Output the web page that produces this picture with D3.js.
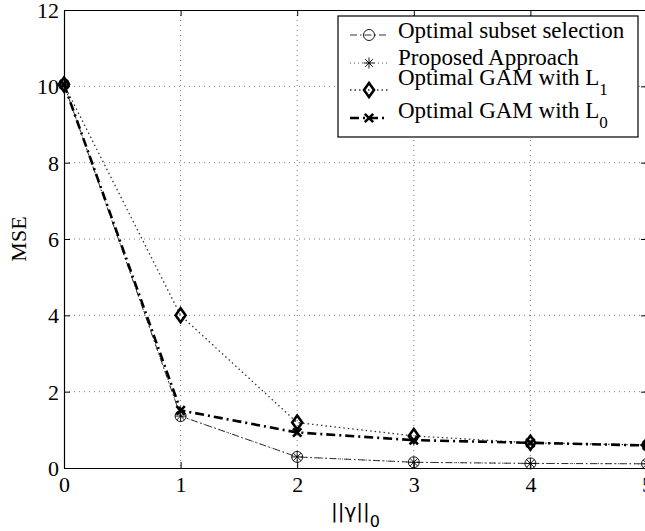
<!DOCTYPE html>
<html>
<head>
<meta charset="utf-8">
<script src="https://cdn.jsdelivr.net/npm/d3@7"></script>
<style>
  body { margin: 0; background: #fff; }
  svg { display: block; }
  text { font-family: "Liberation Serif", "Times New Roman", serif; fill: #000; }
</style>
</head>
<body>
<svg id="chart" width="645" height="531"></svg>
<script>
// data
const xValues = [0, 1, 2, 3, 4, 5];
const subsetMSE = [10.05, 1.36, 0.29, 0.15, 0.12, 0.11];
const proposedMSE = [10.05, 1.36, 0.29, 0.15, 0.12, 0.11];
const gamL1MSE = [10.05, 4.0, 1.19, 0.84, 0.66, 0.6];
const gamL0MSE = [10.05, 1.51, 0.93, 0.73, 0.66, 0.59];
const xTicks = [0, 1, 2, 3, 4, 5];
const yTicks = [0, 2, 4, 6, 8, 10, 12];

const series = [
    {name: "Optimal subset selection", sub: "", values: subsetMSE, marker: "circle",
        width: 0.8, dash: "7,3,1.5,3", color: "#000"},
    {name: "Proposed Approach", sub: "", values: proposedMSE, marker: "star",
        width: 0.8, dash: "1,3", color: "#222"},
    {name: "Optimal GAM with L", sub: "1", values: gamL1MSE, marker: "diamond",
        width: 1.3, dash: "1.5,3", color: "#333"},
    {name: "Optimal GAM with L", sub: "0", values: gamL0MSE, marker: "cross",
        width: 2.6, dash: "9,4,2,4", color: "#000"}
];

const svg = d3.select("#chart");
const plotLeft = 64, plotRight = 647, plotTop = 10, plotBottom = 468;

const x = d3.scaleLinear().domain([0, 5]).range([plotLeft, plotRight]);
const y = d3.scaleLinear().domain([0, 12]).range([plotBottom, plotTop]);

// dotted grid
const grid = svg.append("g");
grid.selectAll(".gx").data(xTicks.slice(1, -1)).join("line")
    .attr("x1", d => x(d)).attr("x2", d => x(d))
    .attr("y1", plotTop).attr("y2", plotBottom)
    .style("stroke", "#555").style("stroke-width", 0.8).style("stroke-dasharray", "1,4");
grid.selectAll(".gy").data(yTicks.slice(1, -1)).join("line")
    .attr("x1", plotLeft).attr("x2", plotRight)
    .attr("y1", d => y(d)).attr("y2", d => y(d))
    .style("stroke", "#555").style("stroke-width", 0.8).style("stroke-dasharray", "1,4");

// axes, ticks pointing in like matlab
let styleAxis = function(g) {
    g.select(".domain").style("stroke", "#000").style("stroke-width", 1.2);
    g.selectAll(".tick line").style("stroke", "#000").style("stroke-width", 1);
    g.selectAll(".tick text").style("font-size", "22px")
        .style("font-family", "Liberation Serif, serif");
};

svg.append("g").attr("transform", `translate(0,${plotBottom})`)
    .call(d3.axisBottom(x).tickValues(xTicks).tickSizeInner(-6).tickSizeOuter(0).tickPadding(6).tickFormat(d3.format("d")))
    .call(styleAxis)
    .call(g => g.selectAll(".tick text").attr("dy", "0.8em"));
svg.append("g").attr("transform", `translate(${plotLeft},0)`)
    .call(d3.axisLeft(y).tickValues(yTicks).tickSizeInner(-6).tickSizeOuter(0).tickPadding(5).tickFormat(d3.format("d")))
    .call(styleAxis)
    .call(g => g.selectAll(".tick text").attr("dy", "0.34em"));
svg.append("g").attr("transform", `translate(0,${plotTop})`)
    .call(d3.axisTop(x).tickValues(xTicks).tickSizeInner(-6).tickSizeOuter(0).tickFormat(""))
    .call(styleAxis);
svg.append("g").attr("transform", `translate(${plotRight},0)`)
    .call(d3.axisRight(y).tickValues(yTicks).tickSizeInner(-6).tickSizeOuter(0).tickFormat(""))
    .call(styleAxis);

// markers
let drawMarker = function(g, type, cx, cy) {
    if (type === "circle") {
        g.append("circle").attr("cx", cx).attr("cy", cy).attr("r", 5.5)
            .style("fill", "none").style("stroke", "#000").style("stroke-width", 0.9);
    } else if (type === "star") {
        const r = 5.5;
        for (let a = 0; a < 4; a++) {
            const ang = a * Math.PI / 4;
            g.append("line")
                .attr("x1", cx - r * Math.cos(ang)).attr("y1", cy - r * Math.sin(ang))
                .attr("x2", cx + r * Math.cos(ang)).attr("y2", cy + r * Math.sin(ang))
                .style("stroke", "#000").style("stroke-width", 0.9);
        }
    } else if (type === "diamond") {
        g.append("path")
            .attr("d", `M${cx},${cy - 7} L${cx + 5},${cy} L${cx},${cy + 7} L${cx - 5},${cy} Z`)
            .style("fill", "none").style("stroke", "#000").style("stroke-width", 2.6);
    } else if (type === "cross") {
        const r = 4.2;
        g.append("path")
            .attr("d", `M${cx - r},${cy - r} L${cx + r},${cy + r} M${cx - r},${cy + r} L${cx + r},${cy - r}`)
            .style("stroke", "#000").style("stroke-width", 2.6);
    }
};

const line = d3.line().x((d, i) => x(xValues[i])).y(d => y(d));

series.forEach(function(s) {
    const g = svg.append("g");
    g.append("path").datum(s.values)
        .attr("d", line)
        .style("fill", "none")
        .style("stroke", s.color)
        .style("stroke-width", s.width)
        .style("stroke-dasharray", s.dash);
    s.values.forEach(function(v, i) {
        drawMarker(g, s.marker, x(xValues[i]), y(v));
    });
});

// axis labels
const xl = svg.append("text").attr("x", (plotLeft + plotRight) / 2).attr("y", 518)
    .attr("text-anchor", "middle").style("font-size", "22px")
    .style("font-family", "DejaVu Sans, sans-serif");
xl.append("tspan").text("||γ||").style("font-size", "20px");
xl.append("tspan").text("0").attr("dy", 9).style("font-size", "16px");

svg.append("text")
    .attr("transform", `translate(26,${(plotTop + plotBottom) / 2}) rotate(-90)`)
    .attr("text-anchor", "middle").style("font-size", "22px")
    .text("MSE");

// legend (marker row and text baseline measured separately, matlab centres the subscripted rows)
const legendRows = [35, 63, 90, 118];
const legendBase = [38, 65, 85, 118];
const lg = svg.append("g");
lg.append("rect").attr("x", 338).attr("y", 16).attr("width", 300).attr("height", 121)
    .style("fill", "#fff").style("stroke", "#000").style("stroke-width", 1.2);
series.forEach(function(s, i) {
    const ry = legendRows[i];
    lg.append("line").attr("x1", 350).attr("x2", 388).attr("y1", ry).attr("y2", ry)
        .style("stroke", s.color).style("stroke-width", s.width)
        .style("stroke-dasharray", s.dash);
    drawMarker(lg, s.marker, 369, ry);
    const t = lg.append("text").attr("x", 398).attr("y", legendBase[i]).style("font-size", "23px");
    t.append("tspan").text(s.name);
    if (s.sub) {
        t.append("tspan").text(s.sub).attr("dy", 10).style("font-size", "17px");
    }
});
</script>
</body>
</html>
